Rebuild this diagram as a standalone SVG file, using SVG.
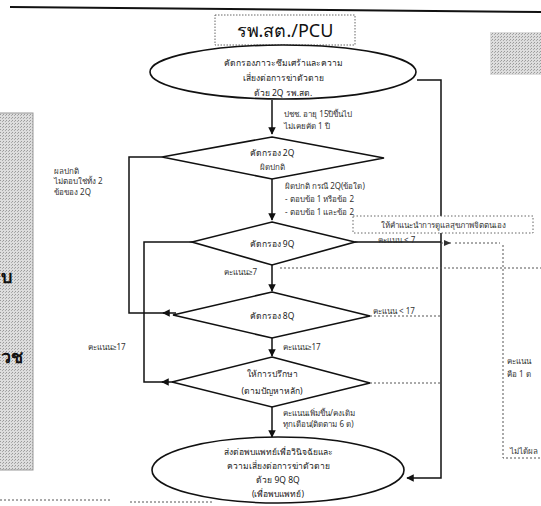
<svg xmlns="http://www.w3.org/2000/svg" width="541" height="506" viewBox="0 0 541 506">
<defs>
<style>
.t{font-family:"Noto Sans","Liberation Sans","DejaVu Sans",sans-serif;fill:#333;font-size:8px}
.tc{text-anchor:middle}
.m{font-size:8.5px;fill:#222}
.b{font-weight:bold;font-size:18px;fill:#111}
.sh{fill:#fff;stroke:#111;stroke-width:1.6}
.ln{fill:none;stroke:#111;stroke-width:1.5}
.dl{fill:none;stroke:#555;stroke-width:1;stroke-dasharray:2 2}
</style>
<pattern id="gp" width="3" height="3" patternUnits="userSpaceOnUse"><rect width="3" height="3" fill="#ddd"/><rect width="1" height="1" fill="#999"/><rect x="2" y="1" width="1" height="1" fill="#aaa"/></pattern>
<marker id="ah" viewBox="0 0 10 10" refX="9" refY="5" markerWidth="5" markerHeight="5" orient="auto"><path d="M0,0L10,5L0,10z" fill="#111"/></marker>
</defs>
<line x1="10" y1="7" x2="541" y2="12" stroke="#111" stroke-width="2"/>
<g id="leftpanel">
<rect x="-2" y="113" width="35" height="357" fill="url(#gp)" stroke="#999" stroke-width="1"/>
<text x="1" y="283" class="t b">บ</text>
<text x="1" y="363" class="t b">วช</text>
</g>
<g id="rightpanel">
<rect x="490" y="32" width="55" height="43" fill="url(#gp)"/>
</g>
<g id="connectors">
<path class="ln" d="M272,100V134" marker-end="url(#ah)"/>
<path class="ln" d="M417,80H441V478H407" marker-end="url(#ah)"/>
<path class="ln" d="M272,179V220" marker-end="url(#ah)"/>
<path class="ln" d="M162,157H129V313H166"/>
<path class="ln" d="M176,313H163" marker-end="url(#ah)"/>
<path class="ln" d="M193,242H144V382H165"/>
<path class="ln" d="M175,382H162" marker-end="url(#ah)"/>
<path class="ln" d="M355,242H441"/>
<path class="ln" d="M272,265V291" marker-end="url(#ah)"/>
<path class="ln" d="M272,338V356" marker-end="url(#ah)"/>
<path class="ln" d="M272,407V437" marker-end="url(#ah)"/>
<path class="dl" d="M441,243H452"/>
<path d="M444,240L451,243L444,246z" fill="#333"/>
<path class="dl" d="M455,243H500"/>
<path class="dl" d="M280,268H541"/>
<path class="dl" d="M503,245V458H541"/>
<path class="dl" d="M370,316H441"/>
<path class="dl" d="M370,383H441"/>
<path class="dl" d="M0,500H112M130,502H212"/>
</g>
<g id="title">
<rect x="215" y="15" width="140" height="30" fill="#fff" stroke="#666" stroke-width="1" stroke-dasharray="1.5 1.5"/>
<text x="285" y="37" class="t tc" style="font-size:18px;fill:#111">รพ.สต./PCU</text>
</g>
<g id="n_start">
<ellipse class="sh" cx="283" cy="72" rx="133" ry="27"/>
<text x="283" y="66" class="t tc m">คัดกรองภาวะซึมเศร้าและความ</text>
<text x="283" y="81" class="t tc m">เสี่ยงต่อการฆ่าตัวตาย</text>
<text x="283" y="96" class="t tc m">ด้วย 2Q รพ.สต.</text>
</g>
<g id="n_2q">
<polygon class="sh" points="272,137 384,158 272,179 162,157"/>
<text x="272" y="156" class="t tc m">คัดกรอง 2Q</text>
<text x="272" y="170" class="t tc">ผิดปกติ</text>
</g>
<g id="n_9q">
<polygon class="sh" points="272,222 355,242 272,265 192,242"/>
<text x="272" y="247" class="t tc m">คัดกรอง 9Q</text>
</g>
<g id="n_advice">
<rect x="353" y="216" width="180" height="17" fill="#fff" stroke="#666" stroke-width="1" stroke-dasharray="1.5 2"/>
<text x="443" y="228" class="t tc">ให้คำแนะนำการดูแลสุขภาพจิตตนเอง</text>
</g>
<g id="n_8q">
<polygon class="sh" points="272,292 370,316 272,338 173,315"/>
<text x="272" y="319" class="t tc m">คัดกรอง 8Q</text>
</g>
<g id="n_counsel">
<polygon class="sh" points="272,357 370,383 272,407 172,382"/>
<text x="272" y="377" class="t tc m">ให้การปรึกษา</text>
<text x="272" y="394" class="t tc m">(ตามปัญหาหลัก)</text>
</g>
<g id="n_end">
<ellipse class="sh" cx="278" cy="470" rx="126" ry="33"/>
<text x="278" y="455" class="t tc m">ส่งต่อพบแพทย์เพื่อวินิจฉัยและ</text>
<text x="278" y="469" class="t tc m">ความเสี่ยงต่อการฆ่าตัวตาย</text>
<text x="278" y="483" class="t tc m">ด้วย 9Q 8Q</text>
<text x="278" y="497" class="t tc m">(เพื่อพบแพทย์)</text>
</g>
<g id="labels">
<text x="284" y="117" class="t">ปชช. อายุ 15ปีขึ้นไป</text>
<text x="284" y="129" class="t">ไม่เคยคัด 1 ปี</text>
<text x="285" y="189" class="t">ผิดปกติ   กรณี 2Q(ข้อใด)</text>
<text x="285" y="202" class="t">- ตอบข้อ 1 หรือข้อ 2</text>
<text x="285" y="215" class="t">- ตอบข้อ 1 และข้อ 2</text>
<text x="54" y="174" class="t">ผลปกติ</text>
<text x="54" y="184" class="t">ไม่ตอบใช่ทั้ง 2</text>
<text x="54" y="195" class="t">ข้อของ 2Q</text>
<text x="378" y="243" class="t">คะแนน &lt; 7</text>
<text x="224" y="275" class="t">คะแนน≥7</text>
<text x="373" y="314" class="t">คะแนน &lt; 17</text>
<text x="283" y="350" class="t">คะแนน≥17</text>
<text x="88" y="350" class="t">คะแนน≥17</text>
<text x="283" y="416" class="t">คะแนนเพิ่มขึ้น/คงเดิม</text>
<text x="283" y="427" class="t">ทุกเดือน(ติดตาม 6 ด)</text>
<text x="507" y="364" class="t">คะแนน</text>
<text x="507" y="377" class="t">คือ 1 ด</text>
<text x="510" y="454" class="t">ไม่ได้ผล</text>
</g>
</svg>
